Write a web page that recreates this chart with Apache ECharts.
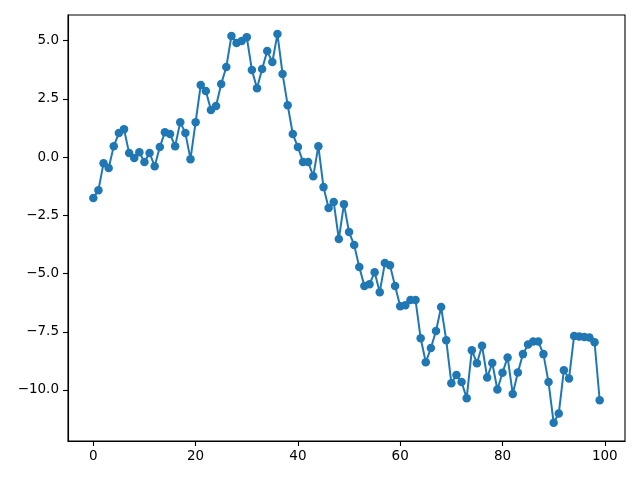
<!DOCTYPE html>
<html>
<head>
<meta charset="utf-8">
<script src="https://cdn.jsdelivr.net/npm/echarts@6/dist/echarts.min.js"></script>
<style>html,body{margin:0;padding:0;background:#fff;}#c{width:640px;height:480px;}</style>
</head>
<body>
<div id="c"></div>
<script>
const xValues = Array.from({length: 100}, (_, i) => i);
const yValues = [
  -1.76, -1.42, -0.26, -0.47, 0.47, 1.03, 1.20, 0.17, -0.04, 0.21,
  -0.21, 0.17, -0.39, 0.43, 1.07, 0.99, 0.47, 1.50, 1.03, -0.09,
  1.50, 3.09, 2.84, 2.02, 2.19, 3.14, 3.87, 5.20, 4.90, 4.98,
  5.15, 3.74, 2.96, 3.78, 4.55, 4.08, 5.28, 3.57, 2.23, 0.99,
  0.43, -0.21, -0.21, -0.82, 0.47, -1.29, -2.19, -1.93, -3.52, -2.02,
  -3.22, -3.78, -4.72, -5.54, -5.46, -4.94, -5.80, -4.55, -4.64, -5.54,
  -6.40, -6.36, -6.14, -6.14, -7.78, -8.81, -8.20, -7.47, -6.44, -7.86,
  -9.71, -9.36, -9.66, -10.35, -8.29, -8.85, -8.10, -9.46, -8.84, -9.98,
  -9.26, -8.60, -10.17, -9.25, -8.46, -8.05, -7.92, -7.92, -8.46, -9.66,
  -11.41, -11.01, -9.15, -9.51, -7.68, -7.70, -7.72, -7.75, -7.95, -10.44
];
const xTicks = [0, 20, 40, 60, 80, 100];
const yTicks = [-10, -7.5, -5, -2.5, 0, 2.5, 5];

const axisCommon = {
  axisLine: {show: true, onZero: false, lineStyle: {color: '#000', width: 1.1}},
  splitLine: {show: false}
};
const chart = echarts.init(document.getElementById('c'));
chart.setOption({
  animation: false,
  backgroundColor: '#fff',
  grid: {left: 68, right: 15, top: 15, bottom: 39, show: true, borderColor: '#000', borderWidth: 1.1},
  xAxis: Object.assign({
    type: 'value', min: -4.95, max: 103.95,
    axisTick: {show: true, length: 5, lineStyle: {color: '#000', width: 1.1}, customValues: xTicks},
    axisLabel: {customValues: xTicks, margin: 8, color: '#000', fontSize: 13.5, fontFamily: 'DejaVu Sans'}
  }, axisCommon),
  yAxis: Object.assign({
    type: 'value', min: -12.19, max: 6.10,
    axisTick: {show: true, length: 5, lineStyle: {color: '#000', width: 1.1}, customValues: yTicks},
    axisLabel: {customValues: yTicks, margin: 9, color: '#000', fontSize: 13.5, fontFamily: 'DejaVu Sans',
      formatter: v => (v < 0 ? '\u2212' : '') + Math.abs(v).toFixed(1)}
  }, axisCommon),
  series: [{
    type: 'line',
    data: xValues.map((x, i) => [x, yValues[i]]),
    symbol: 'circle', symbolSize: 8.5, showAllSymbol: true,
    lineStyle: {color: '#1f77b4', width: 2},
    itemStyle: {color: '#1f77b4'}
  }]
});
</script>
</body>
</html>
